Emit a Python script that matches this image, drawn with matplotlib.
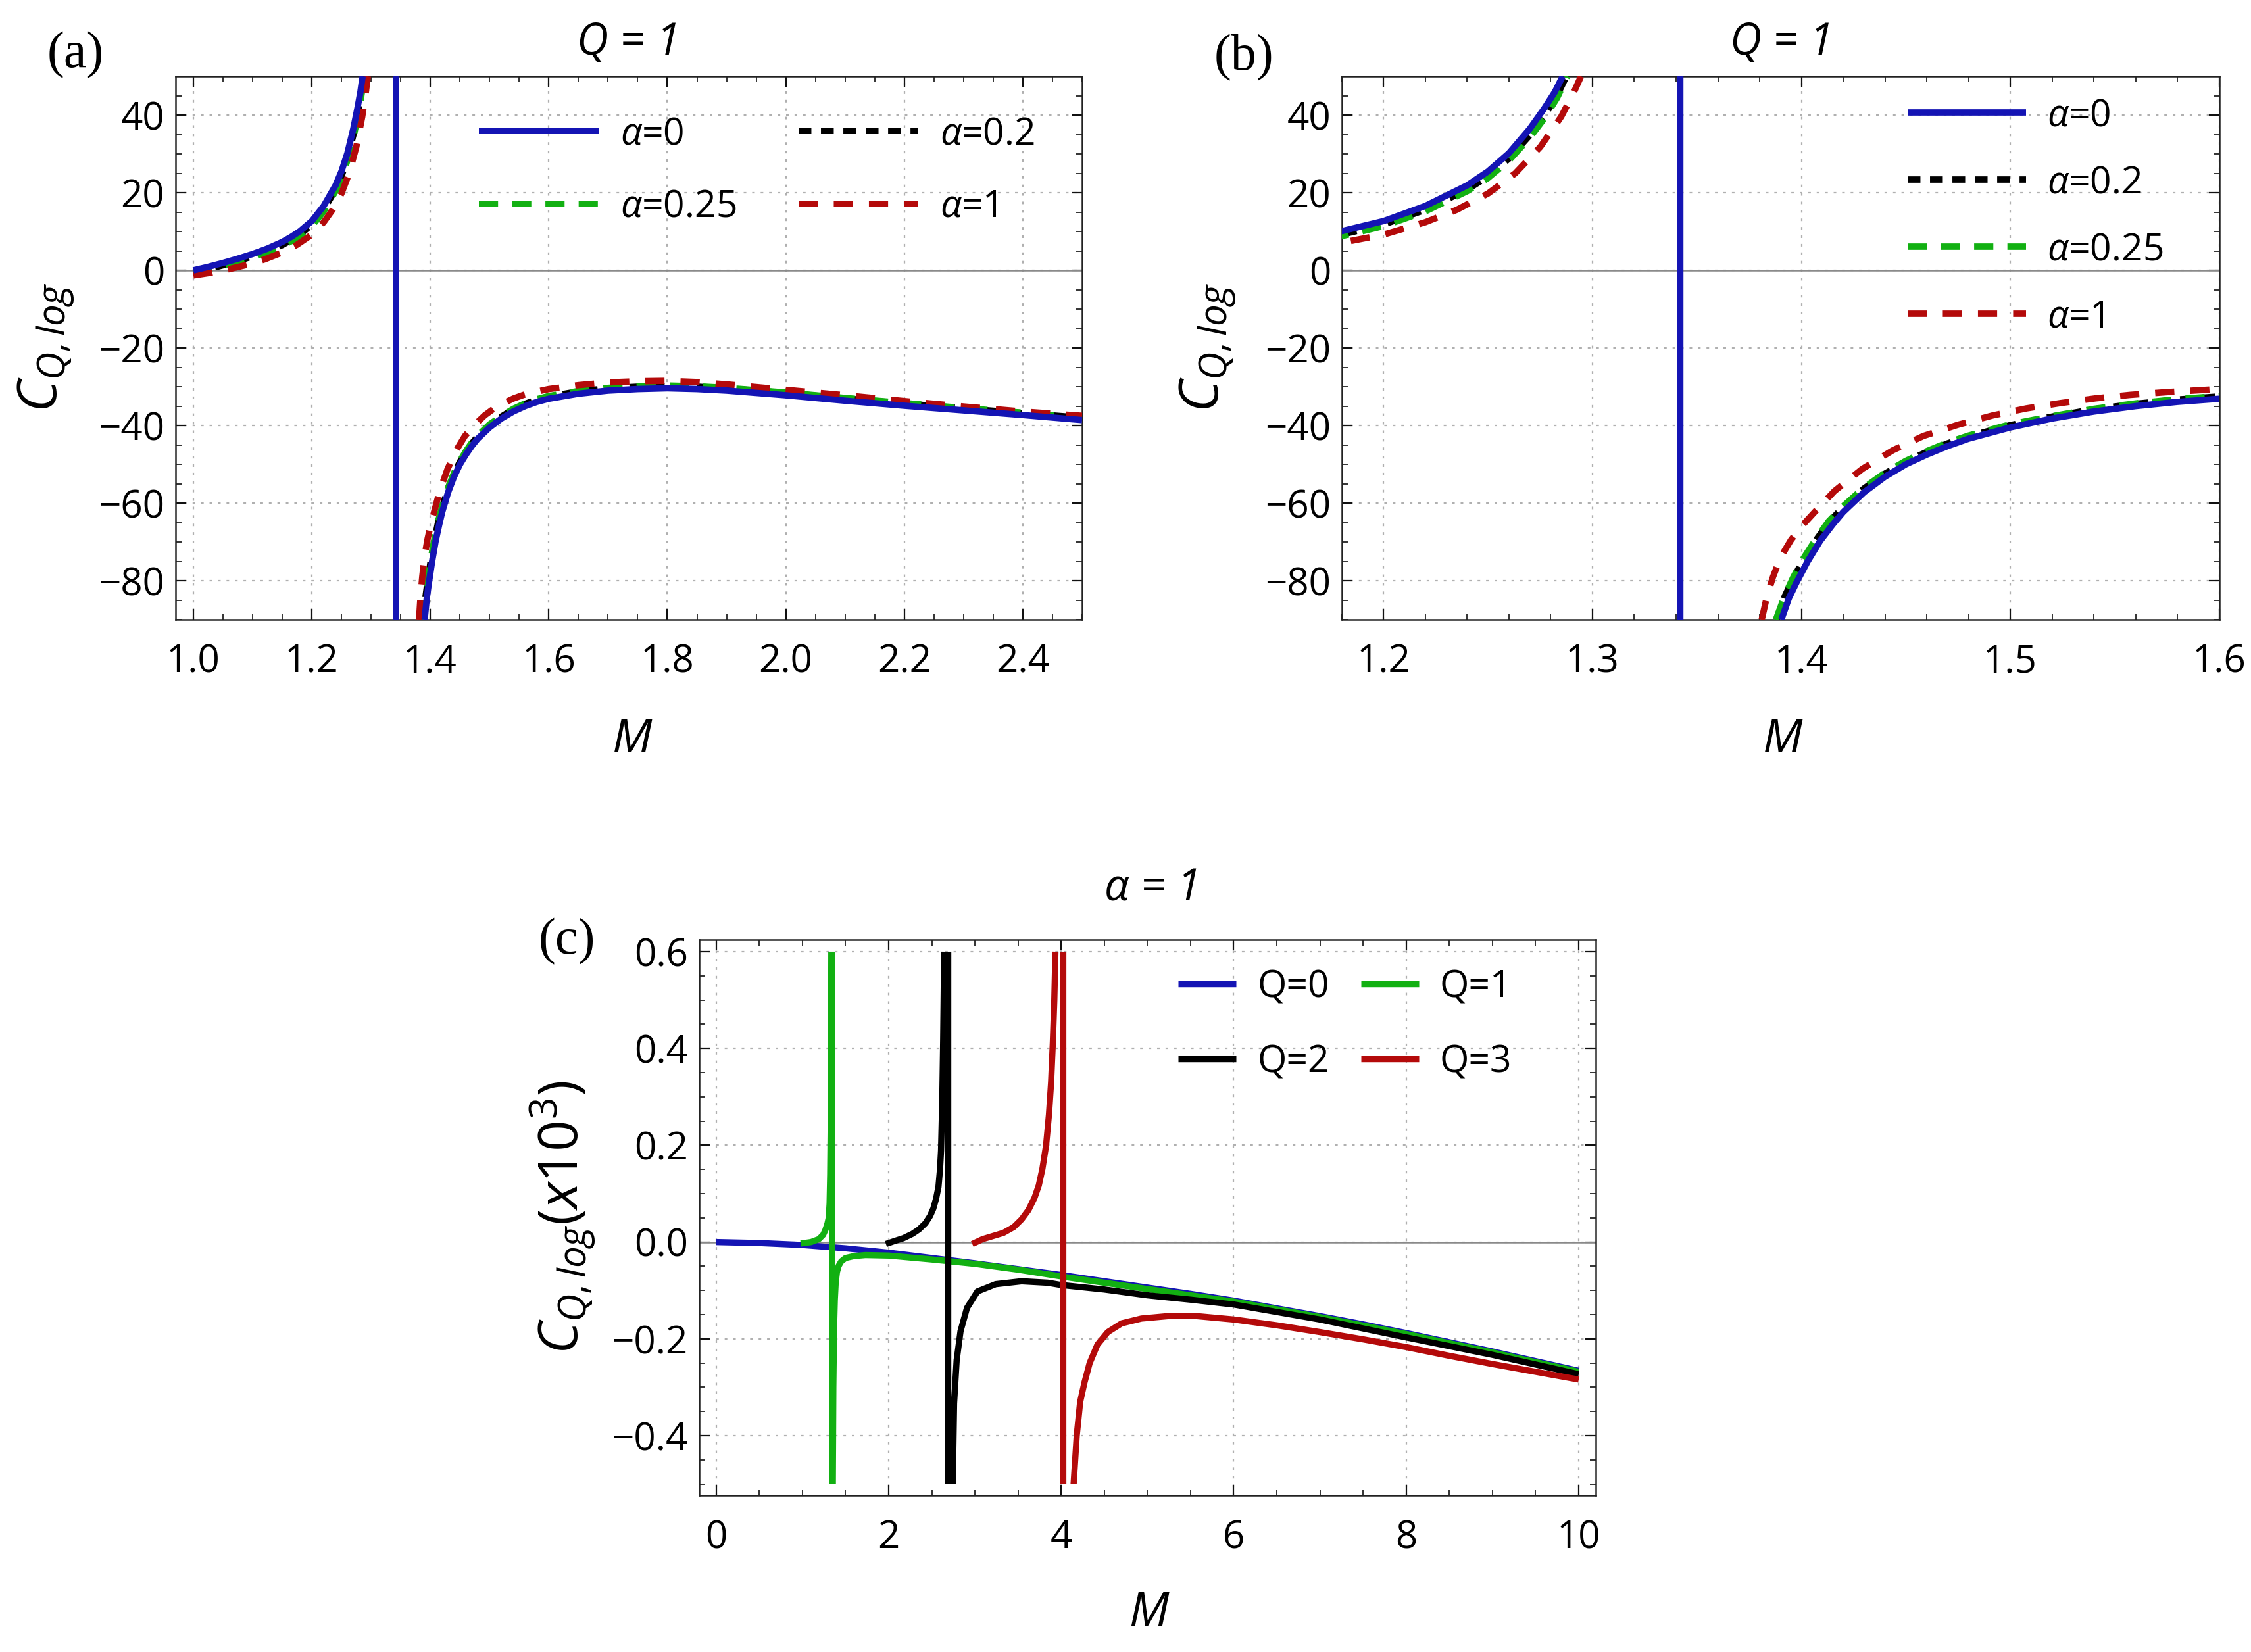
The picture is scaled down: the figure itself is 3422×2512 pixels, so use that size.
import numpy as np
import matplotlib
matplotlib.use("Agg")
import matplotlib.pyplot as plt
from matplotlib.ticker import MultipleLocator, FuncFormatter

plt.rcParams['font.family'] = ['Open Sans', 'DejaVu Sans']
plt.rcParams['mathtext.fontset'] = 'custom'
plt.rcParams['mathtext.rm'] = 'Open Sans'
plt.rcParams['mathtext.it'] = 'Open Sans:italic'
plt.rcParams['mathtext.bf'] = 'Open Sans:bold'
plt.rcParams['axes.unicode_minus'] = True

# ---------------- data: panels (a) and (b), Q = 1 ----------------
# alpha = 0 (blue, solid)
a0_upper_M = [1.000, 1.025, 1.050, 1.075, 1.100, 1.125, 1.150, 1.165, 1.180, 1.200, 1.220,
              1.240, 1.250, 1.260, 1.270, 1.277, 1.282, 1.2857]
a0_upper_C = [0.0, 0.9, 1.9, 3.0, 4.2, 5.6, 7.3, 8.6, 10.1, 12.7, 16.6,
              21.9, 25.5, 30.2, 36.5, 41.8, 46.0, 50.0]
a0_pole_M = [1.342, 1.342]
a0_pole_C = [50.0, -90.0]
a0_lower_M = [1.3904, 1.394, 1.3976, 1.403, 1.409, 1.415, 1.420, 1.430, 1.440, 1.450, 1.460,
              1.470, 1.480, 1.500, 1.520, 1.540, 1.560, 1.580, 1.600, 1.650, 1.700, 1.750,
              1.800, 1.850, 1.900, 2.000, 2.100, 2.200, 2.300, 2.400, 2.500]
a0_lower_C = [-90.0, -84.5, -80.5, -75.0, -69.7, -65.5, -62.3, -57.2, -53.2, -50.0, -47.5,
              -45.3, -43.4, -40.5, -38.2, -36.4, -35.0, -33.9, -33.1, -31.8, -31.0, -30.6,
              -30.4, -30.6, -31.0, -32.2, -33.6, -34.9, -36.1, -37.3, -38.6]

# alpha = 0.2 (black, dashed)
a02_upper_M = [1.000, 1.025, 1.050, 1.075, 1.100, 1.125, 1.150, 1.165, 1.180, 1.200, 1.220,
               1.240, 1.250, 1.260, 1.270, 1.277, 1.283, 1.2875]
a02_upper_C = [-0.6, 0.3, 1.3, 2.4, 3.6, 4.9, 6.5, 7.8, 9.2, 11.8, 15.6,
               20.8, 24.2, 28.8, 34.8, 39.8, 45.0, 50.0]
a02_lower_M = [1.3880, 1.392, 1.396, 1.401, 1.407, 1.413, 1.420, 1.430, 1.440, 1.450, 1.460,
               1.470, 1.480, 1.500, 1.520, 1.540, 1.560, 1.580, 1.600, 1.650, 1.700, 1.750,
               1.800, 1.850, 1.900, 2.000, 2.100, 2.200, 2.300, 2.400, 2.500]
a02_lower_C = [-90.0, -84.0, -79.5, -74.5, -69.5, -65.0, -61.0, -56.2, -52.4, -49.3, -46.8,
               -44.6, -42.8, -39.9, -37.7, -35.8, -34.4, -33.3, -32.5, -31.2, -30.4, -30.0,
               -29.8, -30.0, -30.4, -31.6, -33.0, -34.3, -35.6, -36.8, -38.0]

# alpha = 0.25 (green, dashed)
a025_upper_M = [1.000, 1.025, 1.050, 1.075, 1.100, 1.125, 1.150, 1.165, 1.180, 1.200, 1.220,
                1.240, 1.250, 1.260, 1.270, 1.277, 1.283, 1.2880]
a025_upper_C = [-0.8, 0.1, 1.1, 2.2, 3.4, 4.7, 6.3, 7.5, 8.8, 11.4, 15.2,
                20.4, 23.8, 28.3, 34.2, 39.2, 44.4, 50.0]
a025_lower_M = [1.3878, 1.392, 1.396, 1.401, 1.407, 1.413, 1.420, 1.430, 1.440, 1.450, 1.460,
                1.470, 1.480, 1.500, 1.520, 1.540, 1.560, 1.580, 1.600, 1.650, 1.700, 1.750,
                1.800, 1.850, 1.900, 2.000, 2.100, 2.200, 2.300, 2.400, 2.500]
a025_lower_C = [-90.0, -83.8, -79.2, -74.2, -69.2, -64.7, -60.8, -56.0, -52.2, -49.1, -46.6,
                -44.4, -42.6, -39.7, -37.6, -35.7, -34.3, -33.2, -32.4, -31.1, -30.3, -29.9,
                -29.7, -29.9, -30.3, -31.5, -32.9, -34.2, -35.5, -36.7, -37.9]

# alpha = 1 (red, dashed)
a1_upper_M = [1.000, 1.030, 1.060, 1.090, 1.120, 1.150, 1.175, 1.200, 1.220, 1.235, 1.250,
              1.263, 1.275, 1.285, 1.291, 1.2945]
a1_upper_C = [-1.3, -0.6, 0.3, 1.4, 2.8, 4.6, 6.6, 9.2, 12.4, 15.6, 19.8,
              25.0, 31.8, 39.6, 45.8, 50.0]
a1_lower_M = [1.381, 1.3835, 1.3864, 1.390, 1.395, 1.400, 1.4065, 1.4158, 1.4291, 1.4437,
              1.4584, 1.475, 1.4916, 1.5076, 1.5242, 1.5408, 1.5574, 1.5748, 1.600, 1.650,
              1.700, 1.750, 1.800, 1.850, 1.900, 1.950, 2.000, 2.100, 2.200, 2.300, 2.400, 2.500]
a1_lower_C = [-90.0, -84.0, -79.0, -74.0, -69.5, -66.0, -62.2, -56.9, -51.2, -46.4,
              -42.7, -39.8, -37.4, -35.6, -34.2, -33.0, -32.1, -31.4, -30.6, -29.6,
              -28.9, -28.6, -28.5, -28.8, -29.4, -30.1, -30.8, -32.2, -33.7, -35.1, -36.4, -37.5]

alpha_labels = [r'$\alpha$=0', r'$\alpha$=0.2', r'$\alpha$=0.25', r'$\alpha$=1']

# ---------------- data: panel (c), alpha = 1, C x 10^3 ----------------
q0_M = [0.0, 0.5, 1.0, 1.5, 2.0, 2.5, 3.0, 3.5, 4.0, 4.5, 5.0, 5.5, 6.0, 6.5, 7.0, 7.5,
        8.0, 8.5, 9.0, 9.5, 10.0]
q0_C = [0.0, -0.002, -0.006, -0.013, -0.022, -0.033, -0.044, -0.056, -0.068, -0.081, -0.094,
        -0.107, -0.121, -0.137, -0.153, -0.170, -0.188, -0.207, -0.226, -0.246, -0.266]

q1_upper_M = [0.98, 1.10, 1.19, 1.24, 1.266, 1.29, 1.305, 1.315, 1.322, 1.328, 1.332, 1.335]
q1_upper_C = [-0.003, 0.000, 0.006, 0.015, 0.025, 0.038, 0.050, 0.080, 0.140, 0.250, 0.420, 0.600]
q1_pole_M = [1.343, 1.343]
q1_lower_M = [1.352, 1.358, 1.366, 1.375, 1.385, 1.40, 1.42, 1.45, 1.50, 1.60, 1.73, 2.0,
              2.5, 3.0, 3.5, 4.0, 4.5, 5.0, 6.0, 7.0, 8.0, 9.0, 10.0]
q1_lower_C = [-0.500, -0.300, -0.180, -0.120, -0.085, -0.062, -0.049, -0.040, -0.033, -0.029,
              -0.027, -0.028, -0.036, -0.045, -0.057, -0.071, -0.084, -0.097, -0.123, -0.155,
              -0.190, -0.228, -0.268]

q2_upper_M = [1.968, 2.065, 2.17, 2.275, 2.35, 2.426, 2.48, 2.517, 2.55, 2.577, 2.595, 2.607,
              2.622, 2.632, 2.643]
q2_upper_C = [-0.004, 0.002, 0.008, 0.017, 0.026, 0.039, 0.054, 0.069, 0.090, 0.114, 0.150,
              0.189, 0.300, 0.420, 0.600]
q2_pole_M = [2.69, 2.69]
q2_lower_M = [2.743, 2.758, 2.788, 2.833, 2.908, 3.029, 3.24, 3.541, 3.843, 4.0, 4.5, 5.0,
              5.5, 6.0, 7.0, 8.0, 9.0, 10.0]
q2_lower_C = [-0.500, -0.333, -0.244, -0.184, -0.136, -0.102, -0.087, -0.081, -0.084, -0.0887,
              -0.098, -0.110, -0.119, -0.129, -0.160, -0.197, -0.233, -0.273]

q3_upper_M = [2.969, 3.089, 3.20, 3.33, 3.45, 3.541, 3.62, 3.692, 3.74, 3.782, 3.825, 3.858,
              3.883, 3.903, 3.92, 3.933]
q3_upper_C = [-0.004, 0.006, 0.012, 0.019, 0.031, 0.047, 0.066, 0.092, 0.117, 0.151, 0.200,
              0.263, 0.330, 0.412, 0.500, 0.600]
q3_pole_M = [4.024, 4.024]
q3_lower_M = [4.144, 4.18, 4.22, 4.27, 4.33, 4.42, 4.54, 4.70, 4.93, 5.24, 5.54, 6.0, 6.5,
              7.0, 7.5, 8.0, 8.5, 9.0, 9.5, 10.0]
q3_lower_C = [-0.500, -0.400, -0.330, -0.290, -0.250, -0.212, -0.186, -0.168, -0.158, -0.153,
              -0.1525, -0.160, -0.172, -0.186, -0.201, -0.217, -0.235, -0.252, -0.268, -0.284]
pole_range_c = [0.6, -0.5]

q_labels = ['Q=0', 'Q=1', 'Q=2', 'Q=3']


def join(*branches):
    xs, ys = [], []
    for bx, by in branches:
        if xs:
            xs.append(np.nan)
            ys.append(np.nan)
        xs.extend(bx)
        ys.extend(by)
    return np.array(xs, float), np.array(ys, float)


BLUE = '#1414b4'
GREEN = '#12b012'
RED = '#b40a0a'
BLACK = '#000000'

minus_fmt = lambda fmt: FuncFormatter(lambda v, p: (fmt % v).replace('-', '\u2212'))


def style(ax, xmaj, xmin, ymaj, ymin, xf, yf, xlim, ylim):
    ax.set_xlim(*xlim)
    ax.set_ylim(*ylim)
    ax.xaxis.set_major_locator(MultipleLocator(xmaj))
    ax.xaxis.set_minor_locator(MultipleLocator(xmin))
    ax.yaxis.set_major_locator(MultipleLocator(ymaj))
    ax.yaxis.set_minor_locator(MultipleLocator(ymin))
    ax.xaxis.set_major_formatter(minus_fmt(xf))
    ax.yaxis.set_major_formatter(minus_fmt(yf))
    ax.tick_params(which='both', direction='in', top=True, right=True, color='#111111')
    ax.tick_params(which='major', length=5.8, width=0.8, labelsize=21)
    ax.tick_params(which='minor', length=3.2, width=0.6)
    ax.tick_params(axis='x', which='major', pad=13)
    ax.tick_params(axis='y', which='major', pad=6)
    for s in ax.spines.values():
        s.set_linewidth(0.9)
        s.set_color('#222222')
    ax.grid(which='major', color='#b0b0b0', lw=0.8, ls=(0, (1.8, 4.0)), zorder=0)
    ax.set_axisbelow(True)
    ax.axhline(0, color='#8a8a8a', lw=0.9, zorder=1.5)


fig = plt.figure(figsize=(17.11, 12.56), dpi=200)
ax_a = fig.add_axes([0.0780, 0.6250, 0.4027, 0.3288])
ax_b = fig.add_axes([0.5961, 0.6250, 0.3898, 0.3288])
ax_c = fig.add_axes([0.3105, 0.0949, 0.3985, 0.3364])

LW = 3.5
for ax in (ax_a, ax_b):
    x, y = join((a02_upper_M, a02_upper_C), (a02_lower_M, a02_lower_C))
    l02, = ax.plot(x, y, color=BLACK, lw=LW, dashes=(2.0, 1.5), dash_capstyle='butt', zorder=3)
    x, y = join((a025_upper_M, a025_upper_C), (a025_lower_M, a025_lower_C))
    l025, = ax.plot(x, y, color=GREEN, lw=LW, dashes=(3.0, 2.2), dash_capstyle='butt', zorder=3.2)
    x, y = join((a1_upper_M, a1_upper_C), (a1_lower_M, a1_lower_C))
    l1, = ax.plot(x, y, color=RED, lw=LW, dashes=(3.0, 2.5), dash_capstyle='butt', zorder=3.4)
    x, y = join((a0_upper_M, a0_upper_C), (a0_pole_M, a0_pole_C), (a0_lower_M, a0_lower_C))
    l0, = ax.plot(x, y, color=BLUE, lw=LW, solid_capstyle='butt', zorder=4)
    if ax is ax_a:
        handles_a = (l0, l02, l025, l1)

style(ax_a, 0.2, 0.05, 20, 5, '%.1f', '%.0f', (0.97, 2.5), (-90, 50))
style(ax_b, 0.1, 0.02, 20, 5, '%.1f', '%.0f', (1.18, 1.6), (-90, 50))

LEGFS = 20.5
h0, h02, h025, h1 = handles_a
ax_a.legend([h0, h025, h02, h1], [alpha_labels[0], alpha_labels[2], alpha_labels[1], alpha_labels[3]],
            ncol=2, loc='upper left', bbox_to_anchor=(0.3345, 0.927), frameon=False,
            fontsize=LEGFS, handlelength=3.2, handletextpad=0.58, columnspacing=1.65,
            labelspacing=0.94, borderpad=0, borderaxespad=0)
ax_b.legend([h0, h02, h025, h1], alpha_labels, ncol=1, loc='upper left',
            bbox_to_anchor=(0.6447, 0.961), frameon=False, fontsize=LEGFS,
            handlelength=3.16, handletextpad=0.56, labelspacing=0.79,
            borderpad=0, borderaxespad=0)

# panel (c)
LWC = 3.4
c0, = ax_c.plot(q0_M, q0_C, color=BLUE, lw=LWC, solid_capstyle='butt', zorder=3)
x, y = join((q1_upper_M, q1_upper_C), (q1_pole_M, pole_range_c), (q1_lower_M, q1_lower_C))
c1, = ax_c.plot(x, y, color=GREEN, lw=LWC, solid_capstyle='butt', zorder=3.2)
x, y = join((q2_upper_M, q2_upper_C), (q2_pole_M, pole_range_c), (q2_lower_M, q2_lower_C))
c2, = ax_c.plot(x, y, color=BLACK, lw=LWC, solid_capstyle='butt', zorder=3.4)
x, y = join((q3_upper_M, q3_upper_C), (q3_pole_M, pole_range_c), (q3_lower_M, q3_lower_C))
c3, = ax_c.plot(x, y, color=RED, lw=LWC, solid_capstyle='butt', zorder=3.6)
style(ax_c, 2, 0.5, 0.2, 0.05, '%.0f', '%.1f', (-0.2, 10.2), (-0.523, 0.625))
ax_c.legend([c0, c2, c1, c3], [q_labels[0], q_labels[2], q_labels[1], q_labels[3]],
            ncol=2, loc='upper left', bbox_to_anchor=(0.5343, 0.947), frameon=False,
            fontsize=LEGFS, handlelength=1.55, handletextpad=0.56, columnspacing=0.84,
            labelspacing=1.0, borderpad=0, borderaxespad=0)

# texts
serif = ['Liberation Serif', 'DejaVu Serif']
fig.text(0.0335, 0.9666, '(a)', family=serif, fontsize=28, ha='center', va='center')
fig.text(0.5526, 0.9650, '(b)', family=serif, fontsize=28, ha='center', va='center')
fig.text(0.2518, 0.4303, '(c)', family=serif, fontsize=28, ha='center', va='center')

fig.text(0.2794, 0.9741, 'Q = 1', fontsize=24, style='italic', ha='center', va='center')
fig.text(0.7916, 0.9741, 'Q = 1', fontsize=24, style='italic', ha='center', va='center')
fig.text(0.5111, 0.4623, r'$\alpha$ = 1', fontsize=24, style='italic', ha='center', va='center')

fig.text(0.2805, 0.5521, 'M', fontsize=26, style='italic', ha='center', va='center')
fig.text(0.7916, 0.5521, 'M', fontsize=26, style='italic', ha='center', va='center')
fig.text(0.5104, 0.0235, 'M', fontsize=26, style='italic', ha='center', va='center')

fig.text(0.0205, 0.7898, r'$C_{Q,log}$', fontsize=30, rotation=90, ha='center', va='center')
fig.text(0.5365, 0.7898, r'$C_{Q,log}$', fontsize=30, rotation=90, ha='center', va='center')
fig.text(0.2500, 0.2630, r'$C_{Q,log}(x10^{3})$', fontsize=30, rotation=90, ha='center', va='center')

fig.savefig('out.png', dpi=200)
